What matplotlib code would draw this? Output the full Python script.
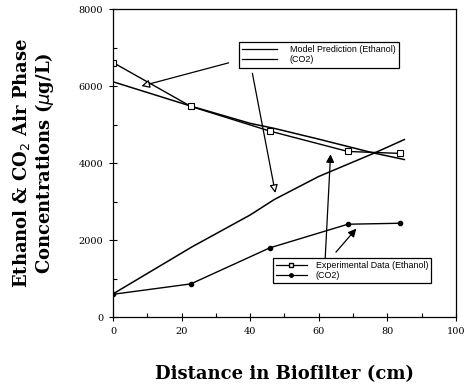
import numpy as np
import matplotlib.pyplot as plt
from matplotlib.lines import Line2D

# Données
x_exp = [0, 22.7, 45.7, 68.5, 83.6]
ethanol_exp = [6610, 5470, 4830, 4300, 4250]
co2_exp = [590, 860, 1795, 2410, 2435]

x_model = [0, 23, 40, 47, 60, 76, 85]
ethanol_model = [6110, 5470, 5030, 4900, 4620, 4260, 4090]
co2_model = [600, 1820, 2650, 3050, 3650, 4250, 4610]

fig = plt.figure(figsize=(4.68, 3.85), dpi=100)
ax = fig.add_axes([0.2415, 0.1766, 0.7325, 0.8])

ax.plot(x_model, ethanol_model, color="black", lw=1.1)
ax.plot(x_model, co2_model, color="black", lw=1.1)
ax.plot(x_exp, ethanol_exp, color="black", lw=1.0, marker="s", ms=4,
        mfc="white", mec="black", mew=0.8)
ax.plot(x_exp, co2_exp, color="black", lw=1.0, marker="o", ms=3,
        mfc="black", mec="black")

ax.set_xlim(0, 100)
ax.set_ylim(0, 8000)
ax.set_xticks(np.arange(0, 101, 20))
ax.set_xticks(np.arange(0, 101, 10), minor=True)
ax.set_yticks(np.arange(0, 8001, 2000))
ax.set_yticks(np.arange(0, 8001, 1000), minor=True)
ax.tick_params(which="major", direction="inout", length=6, width=0.8,
               labelsize=7, pad=4)
ax.tick_params(which="minor", direction="in", length=3, width=0.8)
for lab in ax.get_xticklabels() + ax.get_yticklabels():
    lab.set_family("DejaVu Serif")
for s in ax.spines.values():
    s.set_linewidth(0.9)

ax.set_xlabel("Distance in Biofilter (cm)", family="DejaVu Serif",
              fontweight="bold", fontsize=13, labelpad=21)
ax.set_ylabel("Ethanol & CO$_2$ Air Phase\nConcentrations ($\\mu$g/L)",
              family="DejaVu Serif", fontweight="bold", fontsize=13,
              labelpad=16, linespacing=1.1)

# Légendes encadrées avec flèches
h1 = [Line2D([], [], color="black", lw=0.9),
      Line2D([], [], color="black", lw=0.9)]
leg1 = ax.legend(h1, ["Model Prediction (Ethanol)", "(CO2)"],
                 loc="upper left", bbox_to_anchor=(0.367, 0.893),
                 borderaxespad=0, prop={"family": "Liberation Sans", "size": 6.4},
                 frameon=True, fancybox=False, framealpha=1,
                 edgecolor="black", handlelength=4.0, borderpad=0.35,
                 labelspacing=0.15, handletextpad=1.4)
leg1.get_frame().set_linewidth(0.9)
ax.add_artist(leg1)

h2 = [Line2D([], [], color="black", lw=0.9, marker="s", ms=3.5,
             mfc="white", mec="black"),
      Line2D([], [], color="black", lw=0.9, marker="o", ms=2.5,
             mfc="black")]
leg2 = ax.legend(h2, ["Experimental Data (Ethanol)", "(CO2)"],
                 loc="upper left", bbox_to_anchor=(0.466, 0.192),
                 borderaxespad=0, prop={"family": "Liberation Sans", "size": 6.4},
                 frameon=True, fancybox=False, framealpha=1,
                 edgecolor="black", handlelength=3.5, borderpad=0.35,
                 labelspacing=0.15, handletextpad=1.0)
leg2.get_frame().set_linewidth(0.9)

open_arrow = dict(arrowstyle="-|>", color="black", lw=0.9,
                  fc="white", mutation_scale=12)
ax.annotate("", xy=(7.5, 5980), xytext=(34.5, 6620), arrowprops=open_arrow)
ax.annotate("", xy=(47.5, 3150), xytext=(40.5, 6400), arrowprops=open_arrow)

fill_arrow = dict(arrowstyle="-|>", color="black", lw=0.9,
                  fc="black", mutation_scale=12)
ax.annotate("", xy=(63.5, 4300), xytext=(61.5, 850), arrowprops=fill_arrow)
ax.annotate("", xy=(71.5, 2350), xytext=(64.5, 1630), arrowprops=fill_arrow)

plt.savefig("out.png", dpi=100)
